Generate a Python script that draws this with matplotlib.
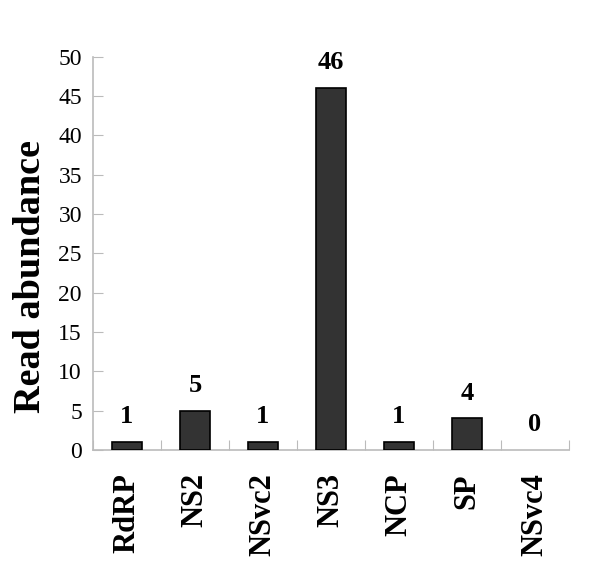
import matplotlib
matplotlib.use("Agg")
import matplotlib.pyplot as plt

genes = ["RdRP", "NS2", "NSvc2", "NS3", "NCP", "SP", "NSvc4"]
reads = [1, 5, 1, 46, 1, 4, 0]

plt.rcParams['font.family'] = ['Liberation Serif', 'DejaVu Serif']

fig = plt.figure(figsize=(6, 5.79), dpi=100)
ax = fig.add_axes([0.155, 0.223, 0.793, 0.679])

x = list(range(len(genes)))
# empty bar (0) shows no outline in the original
lw = [1.2 if v > 0 else 0 for v in reads]
ax.bar(x, reads, width=0.44, color='#333333', edgecolor='black', linewidth=lw, zorder=3)

for xi, v in zip(x, reads):
    ax.annotate(str(v), (xi, v), xytext=(0, 10), textcoords='offset points',
                ha='center', va='bottom', fontsize=19, fontweight='bold')

ax.set_xlim(-0.5, len(genes) - 0.5)
ax.set_ylim(0, 50)
ax.set_yticks(range(0, 51, 5))
ax.tick_params(axis='y', labelsize=17, direction='in', length=7, color='#bbbbbb', pad=8)

# ticks between categories on x
ax.set_xticks([i + 0.5 for i in range(-1, len(genes))], minor=False)
ax.set_xticklabels([])
ax.tick_params(axis='x', direction='in', length=7, color='#bbbbbb')
ax.set_xticks(x, minor=True)
ax.set_xticklabels(genes, minor=True, rotation=90, fontsize=22, fontweight='bold')
ax.tick_params(axis='x', which='minor', length=0, pad=17)

for s in ['top', 'right']:
    ax.spines[s].set_visible(False)
for s in ['left', 'bottom']:
    ax.spines[s].set_color('#bbbbbb')
    ax.spines[s].set_linewidth(1.2)

ax.set_ylabel('Read abundance', fontsize=27.5, fontweight='bold')
ax.yaxis.set_label_coords(-0.132, 0.44)
ax.yaxis.label.set_verticalalignment('center')

fig.savefig('out.png', dpi=100)
